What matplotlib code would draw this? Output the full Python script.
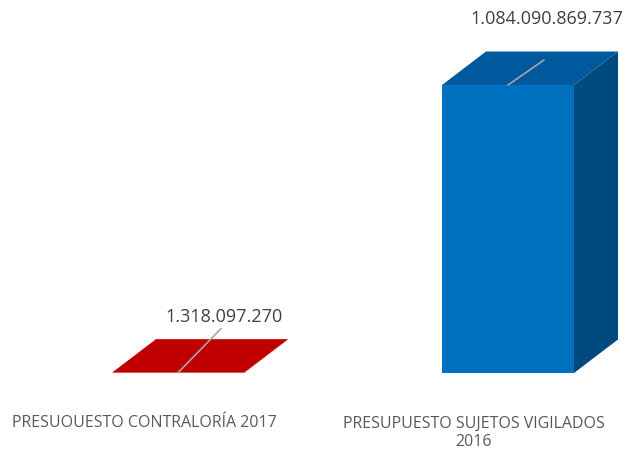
import matplotlib
matplotlib.use("Agg")
import matplotlib.pyplot as plt
from matplotlib.patches import Polygon

categories = ["PRESUOUESTO CONTRALORÍA 2017", "PRESUPUESTO SUJETOS VIGILADOS\n2016"]
values = [1318097270, 1084090869737]
front_colors = ["#C00000", "#0070C0"]
top_colors = ["#C00000", "#00599C"]
side_colors = ["#8A0000", "#004A80"]

W, H = 625, 450
fig = plt.figure(figsize=(W / 100, H / 100), dpi=100)
base_px = 373          # baseline pixel row (from top)
ax = fig.add_axes([0, (H - base_px) / H, 1, base_px / H])
ax.set_axis_off()

xmin, xmax = -178 / 330, (625 - 178) / 330
ymax = base_px / 288 * max(values)
ax.set_xlim(xmin, xmax)
ax.set_ylim(0, ymax)

bw = 132 / 330
dx = 44 / W * (xmax - xmin)
dy = 33.5 / base_px * ymax

def fmt(v):
    return f"{v:,}".replace(",", ".")

label_offsets = [((43, 44), (46, 51)), ((36, 25), (39, 61))]

for i, v in enumerate(values):
    x0, x1 = i - bw / 2, i + bw / 2
    side = Polygon([(x1, 0), (x1 + dx, dy), (x1 + dx, v + dy), (x1, v)],
                   closed=True, facecolor=side_colors[i], edgecolor="none")
    top = Polygon([(x0, v), (x1, v), (x1 + dx, v + dy), (x0 + dx, v + dy)],
                  closed=True, facecolor=top_colors[i], edgecolor="none")
    front = Polygon([(x0, 0), (x1, 0), (x1, v), (x0, v)],
                    closed=True, facecolor=front_colors[i], edgecolor="none")
    for p in (side, top, front):
        ax.add_patch(p)
    (lx, ly), (tx, ty) = label_offsets[i]
    ax.annotate("", xy=(i, v), xytext=(lx, ly), textcoords="offset pixels",
                arrowprops=dict(arrowstyle="-", color="#A6A6A6", lw=1.2,
                                shrinkA=0, shrinkB=0))
    ax.annotate(fmt(v), xy=(i, v), xytext=(tx, ty), textcoords="offset pixels",
                ha="center", va="baseline", fontsize=13, color="#404040",
                family="Open Sans")
    n_lines = categories[i].count("\n") + 1
    ax.annotate(categories[i], xy=(i, 0), xytext=(-34, -54 - 19 * (n_lines - 1)),
                textcoords="offset pixels", ha="center", va="baseline",
                multialignment="center",
                fontsize=11.5, color="#595959", family="Open Sans",
                linespacing=1.2, annotation_clip=False)

fig.savefig("out.png", dpi=100)
